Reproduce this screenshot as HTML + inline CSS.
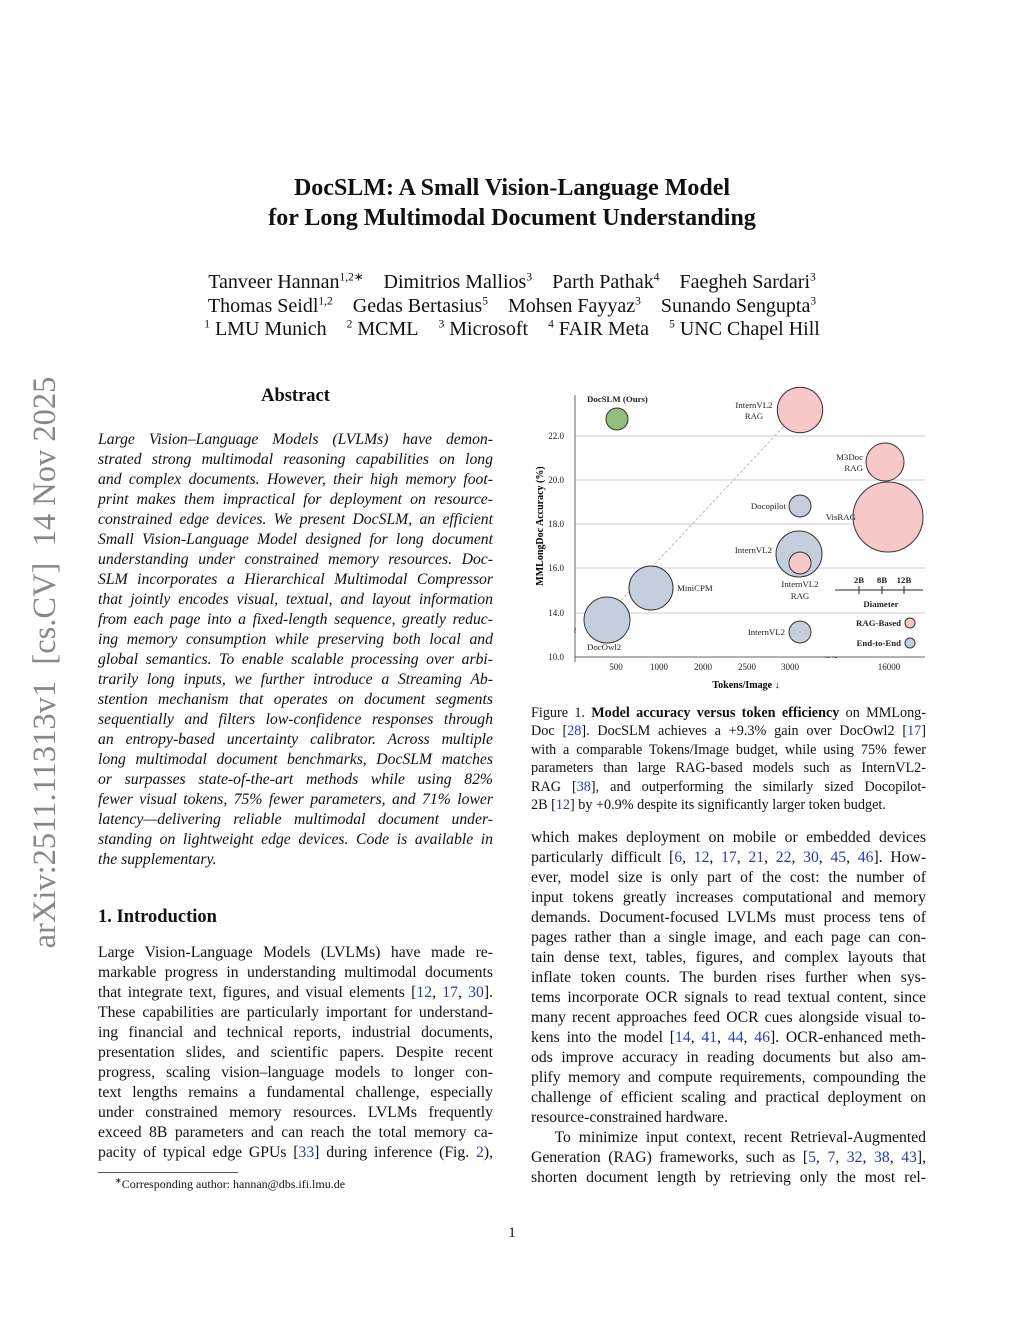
<!DOCTYPE html>
<html><head><meta charset="utf-8"><style>
body{margin:0;background:#fff;}
#p{position:relative;width:1024px;height:1325px;background:#fff;font-family:"Liberation Serif",serif;color:#111;overflow:hidden;}
.a{position:absolute;}
.c{text-align:center;}
.col{position:absolute;font-size:15.7px;line-height:20px;}
.col div{text-align:justify;text-align-last:justify;white-space:nowrap;height:20px;}
.col div.e{text-align-last:left;}
.cap{position:absolute;font-size:14.2px;line-height:18.4px;left:531px;width:395px;}
.cap div{text-align:justify;text-align-last:justify;white-space:nowrap;height:18.4px;}
.cap div.e{text-align-last:left;}
.b{color:#2a3ab0;}
sup{font-size:11.5px;line-height:0;}
</style></head><body><div id="p">
<div class="a c" style="left:0;width:1024px;top:173px;font-size:24px;font-weight:bold;line-height:30px;">DocSLM: A Small Vision-Language Model<br>for Long Multimodal Document Understanding</div>
<div class="a c" style="left:0;width:1024px;top:271px;font-size:20px;line-height:23.5px;">
<div>Tanveer Hannan<sup>1,2∗</sup>&nbsp;&nbsp;&nbsp; Dimitrios Mallios<sup>3</sup>&nbsp;&nbsp;&nbsp; Parth Pathak<sup>4</sup>&nbsp;&nbsp;&nbsp; Faegheh Sardari<sup>3</sup></div>
<div>Thomas Seidl<sup>1,2</sup>&nbsp;&nbsp;&nbsp; Gedas Bertasius<sup>5</sup>&nbsp;&nbsp;&nbsp; Mohsen Fayyaz<sup>3</sup>&nbsp;&nbsp;&nbsp; Sunando Sengupta<sup>3</sup></div>
<div><sup>1</sup> LMU Munich&nbsp;&nbsp;&nbsp; <sup>2</sup> MCML&nbsp;&nbsp;&nbsp; <sup>3</sup> Microsoft&nbsp;&nbsp;&nbsp; <sup>4</sup> FAIR Meta&nbsp;&nbsp;&nbsp; <sup>5</sup> UNC Chapel Hill</div></div>
<div class="a" style="left:27px;top:960px;transform-origin:0 0;transform:rotate(-90deg);font-size:32.5px;color:#888;white-space:nowrap;width:595px;text-align:center;line-height:36px;">arXiv:2511.11313v1&nbsp; [cs.CV]&nbsp; 14 Nov 2025</div>
<div class="a c" style="left:98px;width:395px;top:386px;font-size:18.5px;font-weight:bold;">Abstract</div>
<div class="col" style="left:98px;top:430px;width:395px;font-style:italic;">
<div>Large Vision–Language Models (LVLMs) have demon-</div>
<div>strated strong multimodal reasoning capabilities on long</div>
<div>and complex documents. However, their high memory foot-</div>
<div>print makes them impractical for deployment on resource-</div>
<div>constrained edge devices. We present DocSLM, an efficient</div>
<div>Small Vision-Language Model designed for long document</div>
<div>understanding under constrained memory resources. Doc-</div>
<div>SLM incorporates a Hierarchical Multimodal Compressor</div>
<div>that jointly encodes visual, textual, and layout information</div>
<div>from each page into a fixed-length sequence, greatly reduc-</div>
<div>ing memory consumption while preserving both local and</div>
<div>global semantics. To enable scalable processing over arbi-</div>
<div>trarily long inputs, we further introduce a Streaming Ab-</div>
<div>stention mechanism that operates on document segments</div>
<div>sequentially and filters low-confidence responses through</div>
<div>an entropy-based uncertainty calibrator. Across multiple</div>
<div>long multimodal document benchmarks, DocSLM matches</div>
<div>or surpasses state-of-the-art methods while using 82%</div>
<div>fewer visual tokens, 75% fewer parameters, and 71% lower</div>
<div>latency—delivering reliable multimodal document under-</div>
<div>standing on lightweight edge devices. Code is available in</div>
<div class="e">the supplementary.</div></div>
<div class="a" style="left:98px;top:907px;font-size:18.5px;font-weight:bold;">1. Introduction</div>
<div class="col" style="left:98px;top:943px;width:395px;">
<div>Large Vision-Language Models (LVLMs) have made re-</div>
<div>markable progress in understanding multimodal documents</div>
<div>that integrate text, figures, and visual elements [<span class="b">12</span>, <span class="b">17</span>, <span class="b">30</span>].</div>
<div>These capabilities are particularly important for understand-</div>
<div>ing financial and technical reports, industrial documents,</div>
<div>presentation slides, and scientific papers. Despite recent</div>
<div>progress, scaling vision–language models to longer con-</div>
<div>text lengths remains a fundamental challenge, especially</div>
<div>under constrained memory resources. LVLMs frequently</div>
<div>exceed 8B parameters and can reach the total memory ca-</div>
<div>pacity of typical edge GPUs [<span class="b">33</span>] during inference (Fig. <span class="b">2</span>),</div></div>
<div class="a" style="left:98px;top:1172px;width:140px;border-top:1px solid #555;"></div>
<div class="a" style="left:115px;top:1177px;font-size:12px;"><sup style="font-size:8px">∗</sup>Corresponding author: hannan@dbs.ifi.lmu.de</div>
<div class="a c" style="left:0;width:1024px;top:1225px;font-size:15px;">1</div>

<svg class="a" style="left:530px;top:385px;" width="400" height="310" viewBox="530 385 400 310" font-family="Liberation Serif, serif">
<g stroke="#ccc" stroke-width="1">
<line x1="575" y1="436" x2="925" y2="436"/><line x1="575" y1="480" x2="925" y2="480"/><line x1="575" y1="524" x2="925" y2="524"/><line x1="575" y1="568" x2="925" y2="568"/><line x1="575" y1="613" x2="925" y2="613"/></g>
<line x1="575" y1="395" x2="575" y2="662" stroke="#666"/>
<line x1="575" y1="657" x2="925" y2="657" stroke="#666"/>
<g font-size="9" fill="#222" text-anchor="end"><text x="564" y="439">22.0</text><text x="564" y="483">20.0</text><text x="564" y="527">18.0</text><text x="564" y="571">16.0</text><text x="564" y="616">14.0</text><text x="564" y="660">10.0</text></g>
<g font-size="9" fill="#222" text-anchor="middle"><text x="616" y="670">500</text><text x="659" y="670">1000</text><text x="703" y="670">2000</text><text x="747" y="670">2500</text><text x="790" y="670">3000</text><text x="889" y="670">16000</text></g>
<text x="831" y="660" font-size="9" fill="#222" text-anchor="middle">∼∼</text>
<text x="575" y="633" font-size="9" fill="#222" text-anchor="middle">≀</text>
<text x="746" y="688" font-size="10" font-weight="bold" text-anchor="middle">Tokens/Image ↓</text>
<text transform="translate(543,526) rotate(-90)" font-size="10" font-weight="bold" text-anchor="middle">MMLongDoc Accuracy (%)</text>
<line x1="607" y1="615" x2="786" y2="424" stroke="#bbb" stroke-dasharray="3,2"/>
<g stroke="#333" stroke-width="1">
<circle cx="617" cy="419" r="11" fill="#8fbf7a"/>
<circle cx="800" cy="410" r="22.7" fill="#f8c8c8"/>
<circle cx="885" cy="462" r="19" fill="#f8c8c8"/>
<circle cx="800" cy="506" r="11" fill="#c3cfdc"/>
<circle cx="888" cy="517" r="35" fill="#f8c8c8"/>
<circle cx="799" cy="554" r="23" fill="#c3cfdc"/>
<circle cx="800" cy="563" r="11" fill="#f8c8c8"/>
<circle cx="651" cy="588" r="22" fill="#c3cfdc"/>
<circle cx="607" cy="620" r="23" fill="#c3cfdc"/>
<circle cx="800" cy="632" r="11" fill="#c3cfdc"/>
<circle cx="910" cy="623" r="5" fill="#f8c8c8"/>
<circle cx="910" cy="643" r="5" fill="#c3cfdc"/>
</g>
<g font-size="8.8" fill="#222">
<text x="587" y="402" font-weight="bold">DocSLM (Ours)</text>
<text x="754" y="408" text-anchor="middle">InternVL2</text><text x="754" y="419" text-anchor="middle">RAG</text>
<text x="863" y="460" text-anchor="end">M3Doc</text><text x="863" y="471" text-anchor="end">RAG</text>
<text x="786" y="509" text-anchor="end">Docopilot</text>
<text x="856" y="520" text-anchor="end">VisRAG</text>
<text x="772" y="553" text-anchor="end">InternVL2</text>
<text x="800" y="587" text-anchor="middle">InternVL2</text><text x="800" y="599" text-anchor="middle">RAG</text>
<text x="677" y="591">MiniCPM</text>
<text x="587" y="650">DocOwl2</text>
<text x="785" y="635" text-anchor="end">InternVL2</text>
<text x="859" y="583" font-weight="bold" text-anchor="middle">2B</text><text x="882" y="583" font-weight="bold" text-anchor="middle">8B</text><text x="904" y="583" font-weight="bold" text-anchor="middle">12B</text>
<text x="881" y="607" font-weight="bold" text-anchor="middle">Diameter</text>
<text x="901" y="626" font-weight="bold" text-anchor="end">RAG-Based</text>
<text x="901" y="646" font-weight="bold" text-anchor="end">End-to-End</text>
</g>
<g stroke="#222"><line x1="835" y1="590" x2="923" y2="590"/><line x1="859" y1="586" x2="859" y2="594"/><line x1="882" y1="586" x2="882" y2="594"/><line x1="904" y1="586" x2="904" y2="594"/></g>
</svg>

<div class="cap" style="top:704px;">
<div>Figure 1. <b>Model accuracy versus token efficiency</b> on MMLong-</div>
<div>Doc [<span class="b">28</span>]. DocSLM achieves a +9.3% gain over DocOwl2 [<span class="b">17</span>]</div>
<div>with a comparable Tokens/Image budget, while using 75% fewer</div>
<div>parameters than large RAG-based models such as InternVL2-</div>
<div>RAG [<span class="b">38</span>], and outperforming the similarly sized Docopilot-</div>
<div class="e">2B [<span class="b">12</span>] by +0.9% despite its significantly larger token budget.</div></div>
<div class="col" style="left:531px;top:828px;width:395px;">
<div>which makes deployment on mobile or embedded devices</div>
<div>particularly difficult [<span class="b">6</span>, <span class="b">12</span>, <span class="b">17</span>, <span class="b">21</span>, <span class="b">22</span>, <span class="b">30</span>, <span class="b">45</span>, <span class="b">46</span>]. How-</div>
<div>ever, model size is only part of the cost: the number of</div>
<div>input tokens greatly increases computational and memory</div>
<div>demands. Document-focused LVLMs must process tens of</div>
<div>pages rather than a single image, and each page can con-</div>
<div>tain dense text, tables, figures, and complex layouts that</div>
<div>inflate token counts. The burden rises further when sys-</div>
<div>tems incorporate OCR signals to read textual content, since</div>
<div>many recent approaches feed OCR cues alongside visual to-</div>
<div>kens into the model [<span class="b">14</span>, <span class="b">41</span>, <span class="b">44</span>, <span class="b">46</span>]. OCR-enhanced meth-</div>
<div>ods improve accuracy in reading documents but also am-</div>
<div>plify memory and compute requirements, compounding the</div>
<div>challenge of efficient scaling and practical deployment on</div>
<div class="e">resource-constrained hardware.</div>
<div>&nbsp;&nbsp;&nbsp;To minimize input context, recent Retrieval-Augmented</div>
<div>Generation (RAG) frameworks, such as [<span class="b">5</span>, <span class="b">7</span>, <span class="b">32</span>, <span class="b">38</span>, <span class="b">43</span>],</div>
<div>shorten document length by retrieving only the most rel-</div></div>
</div></body></html>
